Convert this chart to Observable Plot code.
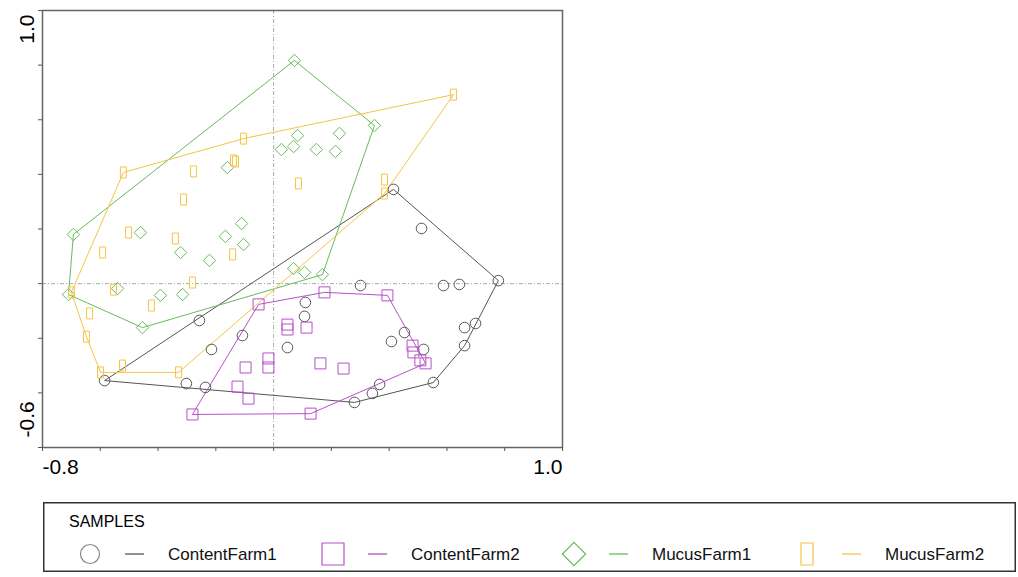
<!DOCTYPE html>
<html><head><meta charset="utf-8">
<script src="https://cdn.jsdelivr.net/npm/d3@7"></script>
<script src="https://cdn.jsdelivr.net/npm/@observablehq/plot@0.6"></script>
<style>
body{margin:0;background:#fff;font-family:"Liberation Sans",Arial,sans-serif;}
#wrap{position:relative;width:1018px;height:577px;overflow:hidden;}
#chart{position:absolute;left:0;top:0;}
#legend{position:absolute;left:43px;top:502px;}
</style></head>
<body><div id="wrap"><div id="chart"></div><div id="legend"></div></div>
<script>
// ---- data ----
const groups = ["ContentFarm1", "ContentFarm2", "MucusFarm1", "MucusFarm2"];
const colors = ["#555555", "#b452c6", "#68bb5a", "#f5c443"];
const legendTitle = "SAMPLES";
const xTickLabels = [-0.8, 1.0];
const yTickLabels = [1.0, -0.6];

const contentFarm1X = [0.415,0.512,0.778,0.588,0.643,0.301,0.699,0.661,0.661,0.553,0.453,0.408,0.519,0.367,0.342,0.280,0.110,0.107,0.048,-0.108,-0.215,-0.257,-0.302,-0.236,-0.585];
const contentFarm1Y = [0.345,0.202,0.011,-0.007,-0.003,-0.007,-0.146,-0.161,-0.227,-0.362,-0.179,-0.212,-0.241,-0.369,-0.402,-0.435,-0.069,-0.120,-0.234,-0.190,-0.241,-0.135,-0.366,-0.380,-0.355];

const contentFarm2X = [-0.052,0.176,0.394,0.048,0.048,0.114,-0.018,-0.018,-0.097,0.162,0.242,-0.125,-0.087,0.128,-0.281,0.481,0.484,0.508,0.526];
const contentFarm2Y = [-0.076,-0.032,-0.043,-0.150,-0.168,-0.161,-0.274,-0.307,-0.307,-0.292,-0.311,-0.377,-0.421,-0.476,-0.479,-0.227,-0.252,-0.281,-0.292];

const mucusFarm1X = [0.072,0.349,0.083,0.027,0.069,0.148,0.214,0.228,-0.160,-0.111,-0.167,-0.104,-0.461,-0.693,-0.322,-0.222,-0.710,-0.540,-0.392,-0.315,-0.454,0.069,0.107,0.169];
const mucusFarm1Y = [0.817,0.579,0.542,0.491,0.502,0.491,0.484,0.550,0.425,0.220,0.173,0.143,0.187,0.180,0.114,0.085,-0.040,-0.018,-0.043,-0.040,-0.161,0.055,0.041,0.033];

const mucusFarm2X = [0.623,0.384,0.384,-0.104,-0.520,-0.277,-0.132,-0.139,-0.312,0.086,-0.502,-0.340,-0.592,-0.142,-0.281,-0.554,-0.700,-0.423,-0.637,-0.648,-0.599,-0.523,-0.329];
const mucusFarm2Y = [0.692,0.381,0.330,0.531,0.407,0.411,0.447,0.451,0.308,0.367,0.187,0.165,0.114,0.107,0.004,-0.022,-0.032,-0.080,-0.109,-0.194,-0.325,-0.300,-0.325];

// ---- build table ----
const seriesX = [contentFarm1X, contentFarm2X, mucusFarm1X, mucusFarm2X];
const seriesY = [contentFarm1Y, contentFarm2Y, mucusFarm1Y, mucusFarm2Y];
const rows = [];
groups.forEach((g, i) => seriesX[i].forEach((x, j) => rows.push({group: g, x, y: seriesY[i][j]})));

const tallRect = {
  draw(ctx, size) {
    const r = Math.sqrt(size / Math.PI);
    const w = r * 0.6, h = r * 1.1;
    ctx.moveTo(-w, -h); ctx.lineTo(w, -h); ctx.lineTo(w, h); ctx.lineTo(-w, h); ctx.closePath();
  }
};
const symbols = [d3.symbolCircle, d3.symbolSquare2, d3.symbolDiamond2, tallRect];
const radii = [5.3, 7, 5.6, 5];

const xTicks = d3.range(-8, 11, 2).map(d => d / 10);
const yTicks = d3.range(-6, 11, 2).map(d => d / 10);

const chart = Plot.plot({
  width: 1018,
  height: 490,
  marginLeft: 42,
  marginRight: 456,
  marginTop: 10,
  marginBottom: 43,
  style: {fontFamily: "'Liberation Sans', Arial, sans-serif", background: "#fff"},
  x: {domain: [-0.8, 1.0]},
  y: {domain: [-0.6, 1.0]},
  color: {domain: groups, range: colors},
  marks: [
    Plot.ruleX([0], {stroke: "#aaa", strokeDasharray: "4,2,1,2", strokeWidth: 1}),
    Plot.ruleY([0], {stroke: "#aaa", strokeDasharray: "4,2,1,2", strokeWidth: 1}),
    Plot.hull(rows, {x: "x", y: "y", z: "group", stroke: "group", strokeWidth: 1}),
    ...groups.map((g, i) => Plot.dot(rows.filter(d => d.group === g), {
      x: "x", y: "y", symbol: symbols[i], r: radii[i], stroke: colors[i], fill: "none", strokeWidth: 1
    })),
    Plot.frame({stroke: "#666", strokeWidth: 1.5}),
    Plot.axisX({ticks: xTicks, tickSize: 4, tickFormat: () => "", stroke: "#555", label: null}),
    Plot.axisY({ticks: yTicks, tickSize: 4, tickFormat: () => "", stroke: "#555", label: null}),
    Plot.text(xTickLabels.slice(0, 1), {x: d => d, text: d => d.toFixed(1), frameAnchor: "bottom", dy: 26, lineAnchor: "bottom", textAnchor: "start", fontSize: 21, fill: "#000"}),
    Plot.text(xTickLabels.slice(1), {x: d => d, text: d => d.toFixed(1), frameAnchor: "bottom", dy: 26, lineAnchor: "bottom", textAnchor: "end", fontSize: 21, fill: "#000"}),
    Plot.text(yTickLabels.slice(0, 1), {y: d => d, text: d => d.toFixed(1), frameAnchor: "left", dx: -9, dy: 4, rotate: -90, lineAnchor: "bottom", textAnchor: "end", fontSize: 21, fill: "#000"}),
    Plot.text(yTickLabels.slice(1), {y: d => d, text: d => d.toFixed(1), frameAnchor: "left", dx: -9, dy: -10, rotate: -90, lineAnchor: "bottom", textAnchor: "start", fontSize: 21, fill: "#000"})
  ]
});
document.getElementById("chart").appendChild(chart);

// ---- legend ----
const lw = 973, lh = 70;
const lsvg = d3.select("#legend").append("svg").attr("width", lw).attr("height", lh)
  .style("font-family", "'Liberation Sans', Arial, sans-serif");
lsvg.append("rect").attr("x", 0.75).attr("y", 0.75).attr("width", lw - 1.5).attr("height", lh - 1.5)
  .attr("fill", "#fff").attr("stroke", "#333").attr("stroke-width", 1.5);
lsvg.append("text").attr("x", 26).attr("y", 25).attr("font-size", 16).text(legendTitle);
const symX = [47, 290, 531, 764];
const legendRadii = [9.5, 14, 10.5, 10];
groups.forEach((g, i) => {
  const cy = 52;
  lsvg.append("path")
    .attr("transform", `translate(${symX[i]},${cy})`)
    .attr("d", d3.symbol(symbols[i], Math.PI * legendRadii[i] ** 2)())
    .attr("fill", "none").attr("stroke", i === 0 ? "#888" : colors[i]).attr("stroke-width", 1.2);
  lsvg.append("line").attr("x1", symX[i] + 35).attr("x2", symX[i] + 54).attr("y1", cy).attr("y2", cy)
    .attr("stroke", colors[i]).attr("stroke-width", 1.3);
  lsvg.append("text").attr("x", symX[i] + 78).attr("y", cy + 6).attr("font-size", 17).attr("fill", "#111").text(g);
});
</script>
</body></html>
